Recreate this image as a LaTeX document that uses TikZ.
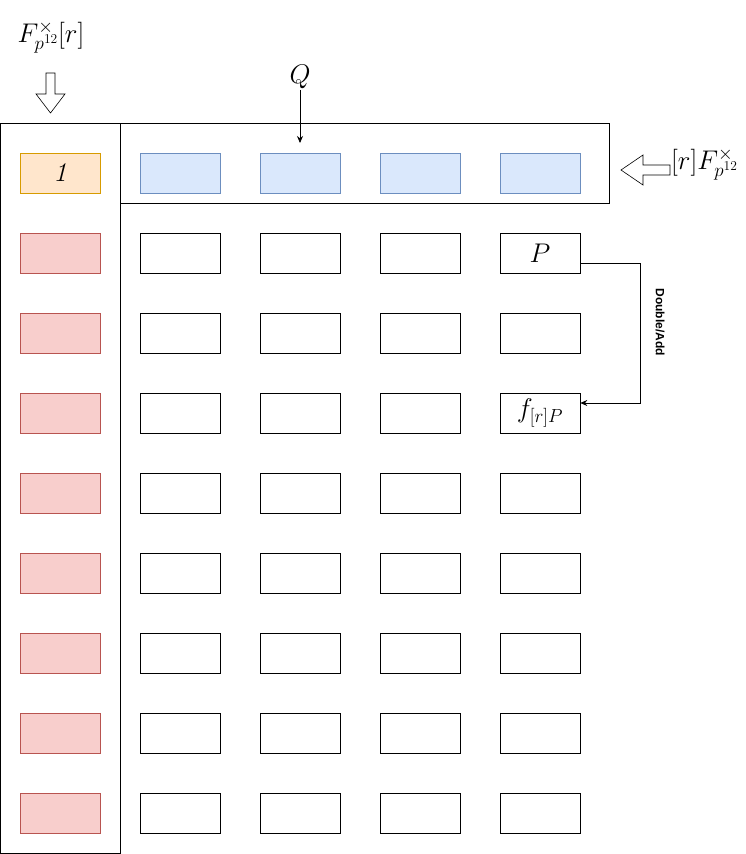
\RequirePackage{fix-cm}
\documentclass[tikz,border=0pt]{standalone}
\usepackage{fontspec}
\newfontfamily\hel{Liberation Sans}
\usetikzlibrary{arrows.meta}
\definecolor{ofill}{HTML}{FFE6CC}\definecolor{odraw}{HTML}{D79B00}
\definecolor{rfill}{HTML}{F8CECC}\definecolor{rdraw}{HTML}{B85450}
\definecolor{bfill}{HTML}{DAE8FC}\definecolor{bdraw}{HTML}{6C8EBF}
\begin{document}
\begin{tikzpicture}[x=1pt,y=-1pt,
  cell/.style={draw=black,fill=white,minimum width=80pt,minimum height=40pt,inner sep=0pt,line width=0.6pt},
  ocell/.style={cell,draw=odraw,fill=ofill},
  rcell/.style={cell,draw=rdraw,fill=rfill},
  bcell/.style={cell,draw=bdraw,fill=bfill},
  frame/.style={draw=black,line width=0.8pt},
  conn/.style={draw=black,line width=0.8pt,-{Stealth[length=7pt,width=6pt]}},
  blockarrow/.style={draw=black,fill=white,line width=0.6pt},
  big/.style={font=\fontsize{27}{30}\selectfont}]
\useasboundingbox (0,0) rectangle (745,854);
% frames
\draw[frame] (0,123) rectangle (120,853);
\draw[frame] (120,123) rectangle (609,203);
% left column
\node[ocell,big] (c11) at (60,173) {$\mathit{1}$};
\foreach \r [count=\i from 2] in {253,333,413,493,573,653,733,813}
  \node[rcell] (c\i1) at (60,\r) {};
% top row
\foreach \x [count=\j from 2] in {180,300,420,540}
  \node[bcell] (c1\j) at (\x,173) {};
% grid
\foreach \r [count=\i from 2] in {253,333,413,493,573,653,733,813}
  \foreach \x [count=\j from 2] in {180,300,420,540}
    \node[cell] (c\i\j) at (\x,\r) {};
\node[big] (pl) at (c25) {$P$};
\node[big] (fp) at (c45) {$f_{[r]P}$};
% Q
\node[big,inner sep=1pt] (q) at (300,77) {$Q$};
\draw[conn] (q.south) -- (300,143);
% left label and arrow
\node[big] (fl) at (51,37) {$F_{p^{12}}^{\times}[r]$};
\draw[blockarrow] (46,73) -- (55,73) -- (55,94) -- (65,94) -- (50.5,113) -- (36,94) -- (46,94) -- cycle;
% right arrow and label
\draw[blockarrow] (670,165) -- (643,165) -- (643,155) -- (621,170) -- (643,185) -- (643,175) -- (670,175) -- cycle;
\node[big,anchor=west,inner sep=0pt] (fr) at (671,164) {$[r]F_{p^{12}}^{\times}$};
% double/add
\coordinate (k1) at (640,263);
\coordinate (k2) at (640,403);
\draw[conn] (c25.east |- k1) -- (k1) -- (k2) -- (c45.east |- k2);
\node[rotate=-90,font=\hel\bfseries\fontsize{12}{14}\selectfont] (da) at (660,322) {Double/Add};
\end{tikzpicture}
\end{document}
